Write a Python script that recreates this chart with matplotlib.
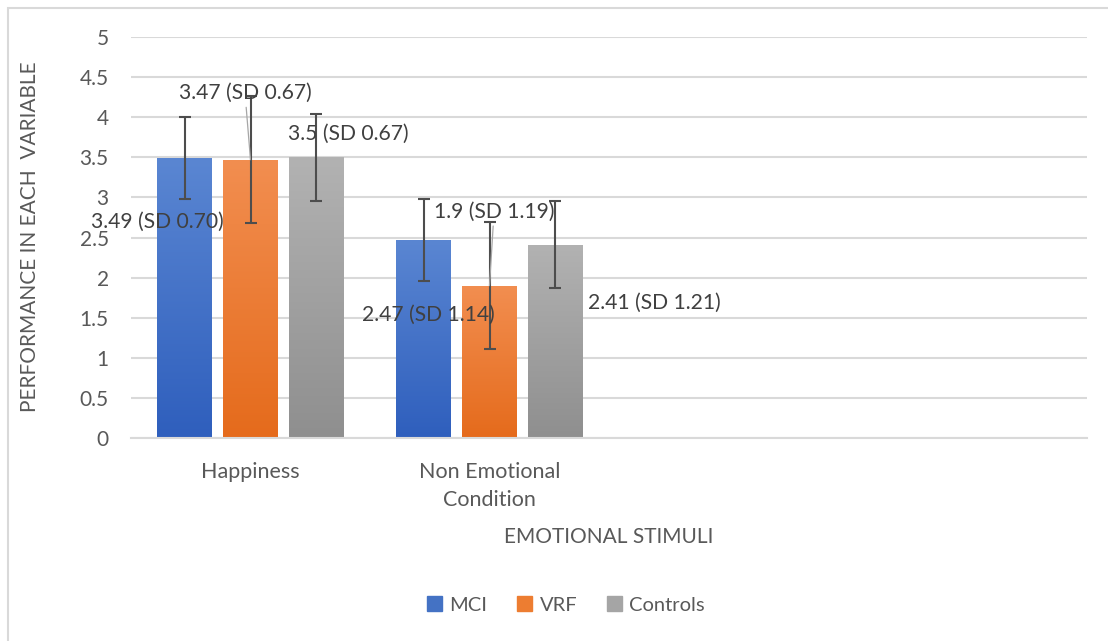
import numpy as np
import matplotlib
matplotlib.use("Agg")
import matplotlib.pyplot as plt
from matplotlib.patches import Rectangle, Patch
from matplotlib.colors import LinearSegmentedColormap

categories = ["Happiness", "Non Emotional\nCondition", "", ""]
groups = ["MCI", "VRF", "Controls"]
means = {
    "MCI": [3.49, 2.47],
    "VRF": [3.47, 1.90],
    "Controls": [3.50, 2.41],
}
errors = {
    "MCI": [0.51, 0.51],
    "VRF": [0.79, 0.79],
    "Controls": [0.545, 0.545],
}
labels = {
    "MCI": ["3.49 (SD 0.70)", "2.47 (SD 1.14)"],
    "VRF": ["3.47 (SD 0.67)", "1.9 (SD 1.19)"],
    "Controls": ["3.5 (SD 0.67)", "2.41 (SD 1.21)"],
}
yticks = [0, 0.5, 1, 1.5, 2, 2.5, 3, 3.5, 4, 4.5, 5]

plt.rcParams['font.family'] = ['Lato', 'DejaVu Sans']
txt = '#595959'

colors = {"MCI": ("#5a86d2", "#2f5fbd"),
          "VRF": ("#f28e50", "#e56b1c"),
          "Controls": ("#b2b2b2", "#8f8f8f")}
legend_col = {"MCI": "#4472c4", "VRF": "#ed7d31", "Controls": "#a5a5a5"}

fig = plt.figure(figsize=(11.08, 6.41), dpi=100)
ax = fig.add_axes([131/1108, 1-438/641, 956/1108, 401/641])

# chart border
fig.patches.append(Rectangle((8/1108, -0.1), 1.2, 1-8/641+0.1, transform=fig.transFigure,
                             fill=False, edgecolor='#d9d9d9', lw=1.5))

x = np.arange(2)
width = 0.23
step = 0.276
grad = np.linspace(0, 1, 100).reshape(-1, 1)
for i, g in enumerate(groups):
    xs = x + (i - 1) * step
    bars = ax.bar(xs, means[g], width, color=legend_col[g], zorder=2)
    cmap = LinearSegmentedColormap.from_list(g, [colors[g][1], colors[g][0]])
    for b in bars:
        im = ax.imshow(grad, cmap=cmap, aspect='auto', origin='lower', zorder=2.5,
                       extent=[b.get_x(), b.get_x() + b.get_width(), 0, b.get_height()])
        im.set_clip_path(b)
    ax.errorbar(xs, means[g], yerr=errors[g], fmt='none', ecolor='#4d4d4d',
                elinewidth=1.5, capsize=4.5, capthick=1.5, zorder=3)

# data labels (placed like the original)
lab_pos = {
    "MCI": [(-0.391, 2.69), (0.743, 1.53)],
    "VRF": [(-0.023, 4.30), (1.019, 2.82)],
    "Controls": [(0.408, 3.79), (1.688, 1.68)],
}
for i, g in enumerate(groups):
    for j in range(2):
        px, py = lab_pos[g][j]
        bx = x[j] + (i - 1) * step
        if g == "VRF":
            ax.annotate(labels[g][j], xy=(bx, means[g][j]), xytext=(px, py),
                        ha='center', va='center', fontsize=15.2, color='#404040', zorder=5,
                        arrowprops=dict(arrowstyle='-', color='#a6a6a6', lw=0.9,
                                        shrinkA=1, shrinkB=0))
        else:
            ax.text(px, py, labels[g][j], ha='center', va='center', fontsize=15.2,
                    color='#404040', zorder=5)

ax.set_xlim(-0.5, 3.5)
ax.set_ylim(0, 5)
ax.set_yticks(yticks)
ax.set_yticklabels([f"{t:g}" for t in yticks])
ax.set_xticks(np.arange(4))
ax.set_xticklabels(categories)
ax.tick_params(axis='both', length=0, labelsize=15, colors=txt)
ax.tick_params(axis='x', labelsize=15.5)
ax.tick_params(axis='y', pad=16)
ax.tick_params(axis='x', pad=17)
for lab in ax.get_xticklabels():
    lab.set_linespacing(1.55)
ax.grid(axis='y', color='#d9d9d9', lw=1.5, zorder=0)
ax.set_axisbelow(True)
for s in ['top', 'right', 'left']:
    ax.spines[s].set_visible(False)
ax.spines['bottom'].set_color('#d9d9d9')
ax.spines['bottom'].set_linewidth(1.5)

fig.text(30/1108, 1-237/641, "PERFORMANCE IN EACH  VARIABLE", rotation=90,
         ha='center', va='center', fontsize=15, color=txt)
fig.text(609/1108, 1-537/641, "EMOTIONAL STIMULI", ha='center', va='center',
         fontsize=15, color=txt)

handles = [Patch(color=legend_col[g], label=g) for g in groups]
fig.legend(handles=handles, loc='center', bbox_to_anchor=(566/1108, 1-605/641), ncol=3,
           frameon=False, fontsize=14.5, labelcolor=txt, handlelength=0.75,
           handleheight=0.75, handletextpad=0.35, columnspacing=1.5)

fig.savefig("out.png", dpi=100)
